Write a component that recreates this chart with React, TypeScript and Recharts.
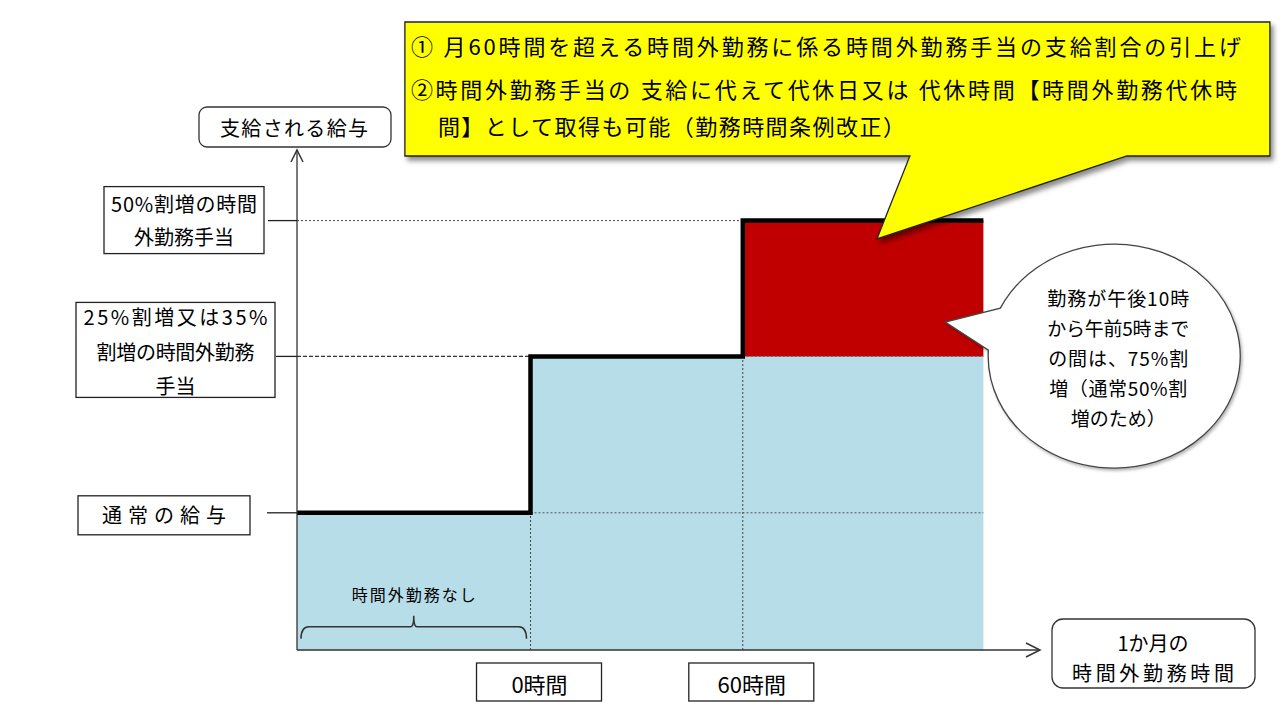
import React from 'react';
import { ComposedChart, Line, Area, XAxis, YAxis, ReferenceLine, ReferenceDot } from 'recharts';

const FONT = '"Noto Sans CJK JP", "Noto Sans", sans-serif';

// x positions (hours scale): chart start, 0 hours, 60 hours, chart end
const hours = [-66, 0, 60, 128];
// paid amount (step line)
const payLevel = [100, 214, 313, 313];
// light-blue filled part
const baseFill = [100, 214, 214, 214];
// red premium part (low / high)
const premiumLow: (number | null)[] = [null, null, 214, 214];
const premiumHigh: (number | null)[] = [null, null, 313, 313];

const xDomain = [-66, 144];
const yDomain = [0, 363];
const xTicks = [0, 60];
const xTickLabels = ['0時間', '60時間'];
const yTicks = [100, 214, 313];
const yTickLabels = [
  ['通常の給与'],
  ['25%割増又は35%', '割増の時間外勤務', '手当'],
  ['50%割増の時間', '外勤務手当'],
];
const yAxisTitle = '支給される給与';
const xAxisTitle = ['1か月の', '時間外勤務時間'];
const braceLabel = '時間外勤務なし';
const braceRange = [-66, 0];
const braceLevel = 17;
const calloutLines = [
  '① 月60時間を超える時間外勤務に係る時間外勤務手当の支給割合の引上げ',
  '②時間外勤務手当の 支給に代えて代休日又は 代休時間【時間外勤務代休時',
  '間】として取得も可能（勤務時間条例改正）',
];
const calloutTip = { x: 97.9, y: 299.6 };
const ellipseLines = ['勤務が午後10時', 'から午前5時まで', 'の間は、75%割', '増（通常50%割', '増のため）'];
const ellipseTip = { x: 117.2, y: 239 };

const rows = hours.map((h, i) => ({
  h,
  pay: payLevel[i],
  base: baseFill[i],
  premium: premiumLow[i] == null ? null : [premiumLow[i], premiumHigh[i]],
}));

// ---- styling tables (geometry relative to tick positions) ----
const yBoxStyle: Record<number, any> = {
  100: { l: -219, r: -47, t: -17, b: 22, stub: -30, dys: [2], lens: [124] },
  214: { l: -221, r: -22, t: -54, b: 41, stub: -21, dys: [-40, -5, 29], lens: [184, 158, 0] },
  313: { l: -193, r: -33, t: -34, b: 33, stub: -29, dys: [-17, 16], lens: [146, 0] },
};
const ellipseLens = [142, 142, 140, 138, 0];

const T = ({ x, y, children, size = 20, anchor = 'middle', len = 0, fill = '#000' }: any) => (
  <text
    x={x}
    y={y}
    fontSize={size}
    fontFamily={FONT}
    textAnchor={anchor}
    dominantBaseline="central"
    fill={fill}
    {...(len ? { textLength: len, lengthAdjust: 'spacing' } : {})}
  >
    {children}
  </text>
);

const YTick = (props: any) => {
  const { x, y, payload } = props;
  const i = yTicks.indexOf(payload.value);
  const s = yBoxStyle[payload.value];
  if (i < 0 || !s) return null;
  const lines = yTickLabels[i];
  const cx = x + (s.l + s.r) / 2;
  return (
    <g>
      <line x1={x + s.stub} x2={x} y1={y} y2={y} stroke="#222" strokeWidth={1.3} />
      <rect x={x + s.l} y={y + s.t} width={s.r - s.l} height={s.b - s.t} fill="#fff" stroke="#222" strokeWidth={1.3} />
      {lines.map((ln, k) => (
        <T key={k} x={cx} y={y + s.dys[k]} len={s.lens[k]}>
          {ln}
        </T>
      ))}
    </g>
  );
};

const XTick = (props: any) => {
  const { x, y, payload } = props;
  const i = xTicks.indexOf(payload.value);
  if (i < 0) return null;
  return (
    <g>
      <rect x={x - 54} y={y + 13} width={125} height={38} fill="#fff" stroke="#222" strokeWidth={1.3} />
      <T x={x + 9} y={y + 33} size={22}>
        {xTickLabels[i]}
      </T>
    </g>
  );
};

const XAxisLine = (p: any) => {
  const { x1, y1, x2, y2 } = p;
  return (
    <g>
      <line x1={x1} y1={y1} x2={x2} y2={y2} stroke="#333" strokeWidth={1.3} />
      <polyline points={`${x2 - 14},${y2 - 7} ${x2},${y2} ${x2 - 14},${y2 + 7}`} fill="none" stroke="#333" strokeWidth={1.5} />
      <rect x={x2 + 12} y={y2 - 31} width={203} height={69} rx={11} fill="#fff" stroke="#333" strokeWidth={1.3} />
      <T x={x2 + 113} y={y2 - 8} size={20}>
        {xAxisTitle[0]}
      </T>
      <T x={x2 + 113} y={y2 + 22} size={20} len={162}>
        {xAxisTitle[1]}
      </T>
    </g>
  );
};

const YAxisLine = (p: any) => {
  const { x1, y1, y2 } = p;
  const top = Math.min(y1, y2);
  const bot = Math.max(y1, y2);
  const x = x1;
  return (
    <g>
      <line x1={x} y1={bot} x2={x} y2={top - 2} stroke="#333" strokeWidth={1.3} />
      <polyline points={`${x - 6},${top + 10} ${x},${top - 2} ${x + 6},${top + 10}`} fill="none" stroke="#333" strokeWidth={1.5} />
      <rect x={x - 98} y={top - 45} width={192} height={40} rx={8} fill="#fff" stroke="#333" strokeWidth={1.3} />
      <T x={x - 3} y={top - 25} size={20} len={148}>
        {yAxisTitle}
      </T>
    </g>
  );
};

const Brace = (p: any) => {
  const { x1, y1, x2 } = p;
  const a = Math.min(x1, x2) + 4;
  const b = Math.max(x1, x2) - 4;
  const m = (a + b) / 2;
  const y = y1;
  return (
    <g>
      <path
        d={`M${a},${y + 12} Q${a},${y} ${a + 8},${y} L${m - 3},${y} Q${m},${y} ${m},${y - 11} Q${m},${y} ${m + 3},${y} L${b - 8},${y} Q${b},${y} ${b},${y + 12}`}
        fill="none"
        stroke="#333"
        strokeWidth={1.5}
      />
      <T x={m} y={y - 33} size={16} len={124}>
        {braceLabel}
      </T>
    </g>
  );
};

const YellowCallout = (p: any) => {
  const { cx, cy } = p;
  if (cx == null || cy == null) return null;
  const L = cx - 472;
  const R = cx + 393;
  const Tp = cy - 217;
  const B = cy - 83;
  return (
    <g>
      <defs>
        <filter id="shadowY" x="-5%" y="-5%" width="115%" height="130%">
          <feDropShadow dx="3" dy="4" stdDeviation="2.5" floodColor="#000" floodOpacity="0.45" />
        </filter>
      </defs>
      <path
        d={`M${L},${Tp} H${R} V${B} H${cx + 250} L${cx},${cy} L${cx + 33},${B} H${L} Z`}
        fill="#ffff00"
        stroke="#222"
        strokeWidth={1.3}
        filter="url(#shadowY)"
      />
      <T x={cx - 466} y={cy - 194} anchor="start" size={22} len={830}>
        {calloutLines[0]}
      </T>
      <T x={cx - 466} y={cy - 151} anchor="start" size={22} len={826}>
        {calloutLines[1]}
      </T>
      <T x={cx - 439} y={cy - 114} anchor="start" size={22} len={467}>
        {calloutLines[2]}
      </T>
    </g>
  );
};

const EllipseCallout = (p: any) => {
  const { cx, cy } = p;
  if (cx == null || cy == null) return null;
  const ecx = cx + 169;
  const ecy = cy + 34;
  const rx = 126;
  const ry = 112;
  const pt = (dy: number) => {
    const s = dy / ry;
    const c = -Math.sqrt(1 - s * s);
    return [ecx + rx * c, ecy + dy];
  };
  const [ux, uy] = pt(-48);
  const [lx, ly] = pt(-6);
  return (
    <g>
      <defs>
        <filter id="shadowE" x="-10%" y="-10%" width="125%" height="125%">
          <feDropShadow dx="1.5" dy="2" stdDeviation="1.5" floodColor="#000" floodOpacity="0.3" />
        </filter>
      </defs>
      <path
        d={`M${ux},${uy} A${rx},${ry} 0 1 1 ${lx},${ly} L${cx},${cy} Z`}
        fill="#fff"
        stroke="#444"
        strokeWidth={1.3}
        filter="url(#shadowE)"
      />
      {ellipseLines.map((ln, k) => (
        <T key={k} x={cx + 173} y={cy - 25 + k * 30} size={19} len={ellipseLens[k]}>
          {ln}
        </T>
      ))}
    </g>
  );
};

export default function App() {
  return (
    <div style={{ position: 'absolute', left: 0, top: 0, width: 1287, height: 702, background: '#fff' }}>
      <ComposedChart width={1287} height={702} data={rows} margin={{ top: 152, right: 247, bottom: 0, left: 0 }}>
        <XAxis
          dataKey="h"
          type="number"
          domain={xDomain}
          ticks={xTicks}
          interval={0}
          tick={(p: any) => <XTick {...p} />}
          tickLine={false}
          axisLine={false}
          tickSize={0}
          tickMargin={0}
          height={52}
          allowDataOverflow
        />
        <YAxis
          type="number"
          domain={yDomain}
          ticks={yTicks}
          interval={0}
          tick={(p: any) => <YTick {...p} />}
          tickLine={false}
          axisLine={false}
          tickSize={0}
          tickMargin={0}
          width={297}
          allowDataOverflow
        />
        <Area dataKey="base" type="stepAfter" fill="#b7dde8" fillOpacity={1} stroke="none" isAnimationActive={false} />
        <Area dataKey="premium" type="linear" fill="#c00000" fillOpacity={1} stroke="none" isAnimationActive={false} />
        <ReferenceLine segment={[{ x: hours[0], y: payLevel[2] }, { x: hours[2], y: payLevel[2] }]} stroke="#444" strokeDasharray="2 2" strokeWidth={1} />
        <ReferenceLine segment={[{ x: hours[0], y: payLevel[1] }, { x: hours[1], y: payLevel[1] }]} stroke="#333" strokeDasharray="4 2" strokeWidth={1.2} />
        <ReferenceLine segment={[{ x: hours[1], y: payLevel[0] }, { x: hours[3], y: payLevel[0] }]} stroke="#555" strokeDasharray="2 2" strokeWidth={1} />
        <ReferenceLine segment={[{ x: hours[2], y: payLevel[1] }, { x: hours[3], y: payLevel[1] }]} stroke="#666" strokeDasharray="2 2" strokeWidth={1} />
        <ReferenceLine segment={[{ x: hours[1], y: 0 }, { x: hours[1], y: payLevel[0] }]} stroke="#444" strokeDasharray="2 2" strokeWidth={1} />
        <ReferenceLine segment={[{ x: hours[2], y: 0 }, { x: hours[2], y: payLevel[1] }]} stroke="#444" strokeDasharray="2 2" strokeWidth={1} />
        <Line dataKey="pay" type="stepAfter" stroke="#000" strokeWidth={4.5} dot={false} activeDot={false} isAnimationActive={false} strokeLinejoin="miter" strokeLinecap="butt" />
        <ReferenceLine segment={[{ x: xDomain[0], y: 0 }, { x: xDomain[0], y: yDomain[1] }]} shape={(p: any) => <YAxisLine {...p} />} />
        <ReferenceLine segment={[{ x: xDomain[0], y: 0 }, { x: xDomain[1], y: 0 }]} shape={(p: any) => <XAxisLine {...p} />} />
        <ReferenceLine segment={[{ x: braceRange[0], y: braceLevel }, { x: braceRange[1], y: braceLevel }]} shape={(p: any) => <Brace {...p} />} />
        <ReferenceDot x={ellipseTip.x} y={ellipseTip.y} r={0} shape={(p: any) => <EllipseCallout {...p} />} />
        <ReferenceDot x={calloutTip.x} y={calloutTip.y} r={0} shape={(p: any) => <YellowCallout {...p} />} />
      </ComposedChart>
    </div>
  );
}
